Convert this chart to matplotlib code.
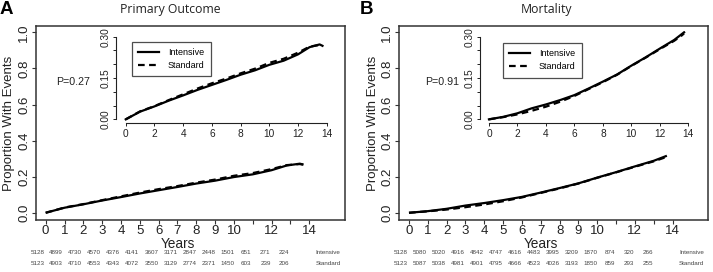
import matplotlib
matplotlib.use("Agg")
import matplotlib.pyplot as plt
import numpy as np

plt.rcParams['font.family'] = ['Liberation Sans', 'DejaVu Sans']

# ---------------- data ----------------
years_main_ticks = list(range(0, 15))
years_main_labels = ['0', '1', '2', '3', '4', '5', '6', '7', '8', '9', '10', '', '12', '', '14']

t_primary = [0, 1, 2, 3, 4, 5, 6, 7, 8, 9, 10, 11, 12, 12.8, 13.5, 13.7]
primary_intensive = [0, 0.028, 0.047, 0.068, 0.087, 0.107, 0.125, 0.143, 0.162, 0.178,
                     0.198, 0.213, 0.236, 0.262, 0.272, 0.267]
primary_standard = [0, 0.029, 0.048, 0.070, 0.091, 0.112, 0.131, 0.148, 0.167, 0.184,
                    0.205, 0.220, 0.242, 0.264, 0.270, 0.266]

t_mort = [0, 1, 2, 3, 4, 5, 6, 7, 8, 9, 10, 11, 12, 13, 13.5, 13.7]
mort_intensive = [0, 0.009, 0.022, 0.040, 0.054, 0.070, 0.088, 0.112, 0.137, 0.163,
                  0.195, 0.225, 0.257, 0.288, 0.308, 0.316]
mort_standard = [0, 0.008, 0.018, 0.031, 0.046, 0.064, 0.085, 0.110, 0.135, 0.162,
                 0.194, 0.224, 0.255, 0.285, 0.303, 0.312]

risk_primary_intensive = [5128, 4899, 4730, 4570, 4376, 4141, 3607, 3171, 2847, 2448, 1501, 651, 271, 224]
risk_primary_standard = [5123, 4903, 4710, 4553, 4343, 4072, 3550, 3129, 2774, 2371, 1450, 603, 239, 206]
risk_mort_intensive = [5128, 5080, 5020, 4916, 4842, 4747, 4616, 4483, 3995, 3209, 1870, 874, 320, 266]
risk_mort_standard = [5123, 5087, 5038, 4981, 4901, 4795, 4666, 4523, 4026, 3193, 1850, 859, 293, 255]

panel_letters = ['A', 'B']
panel_titles = ['Primary Outcome', 'Mortality']
p_values = ['P=0.27', 'P=0.91']
group_names = ['Intensive', 'Standard']

# ---------------- layout ----------------
W, H = 713, 272
fig = plt.figure(figsize=(W / 100, H / 100), dpi=100)

def fx(px):
    return px / W

def fy(py):
    return 1 - py / H

main_left = [35.7, 399.0]
main_w = 309.3
main_top, main_bot = 26, 220
inset_left = [116.4, 479.7]
inset_w = [219.0, 217.2]
inset_top, inset_bot = 31.2, 123.2
title_x = [170.5, 546.5]
letter_x = [0, 360]
p_x = [73, 442]
legend_anchor = [(0.07, 0.886), (0.106, 0.872)]

series = [
    (t_primary, primary_intensive, primary_standard, risk_primary_intensive, risk_primary_standard),
    (t_mort, mort_intensive, mort_standard, risk_mort_intensive, risk_mort_standard),
]

lw = 1.6
for k in range(2):
    t, yi, ys, ri, rs = series[k]
    ax = fig.add_axes([fx(main_left[k]), fy(main_bot), fx(main_w), (main_bot - main_top) / H])
    ax.plot(t, yi, color='black', lw=lw, solid_capstyle='butt')
    ax.plot(t, ys, color='black', lw=lw, ls=(0, (3, 2)))
    ax.set_xlim(-0.53, 15.9)
    ax.set_ylim(-0.04, 1.035)
    ax.set_xticks(years_main_ticks)
    ax.set_xticklabels(years_main_labels)
    ax.set_yticks([0, 0.2, 0.4, 0.6, 0.8, 1.0])
    ax.set_yticklabels(['0.0', '0.2', '0.4', '0.6', '0.8', '1.0'])
    ax.tick_params(axis='both', direction='out', length=3, width=0.8, labelsize=9.5,
                   color='#333333', labelcolor='#222222')
    ax.tick_params(axis='x', pad=0.8)
    ax.tick_params(axis='y', pad=1)
    for lab in ax.get_yticklabels():
        lab.set_rotation(90)
        lab.set_va('center')
    for sp in ax.spines.values():
        sp.set_color('#333333')
        sp.set_linewidth(1.1)
    ax.set_ylabel('Proportion With Events', fontsize=9.5, color='#222222', labelpad=2)
    # x-axis title placed below tick labels
    xtrans = matplotlib.transforms.blended_transform_factory(ax.transData, fig.transFigure)
    ax.text(7.0, fy(243.5), 'Years', transform=xtrans, ha='center', va='center',
            fontsize=9.8, color='#222222', clip_on=False)

    # risk table
    for i in range(len(ri)):
        xp = -0.45 + 1.01 * i
        ax.text(xp, fy(252.6), str(ri[i]), transform=xtrans, ha='center', va='center',
                fontsize=4.5, color='#444444', clip_on=False)
        ax.text(xp, fy(263.2), str(rs[i]), transform=xtrans, ha='center', va='center',
                fontsize=4.5, color='#444444', clip_on=False)
    ax.text(15.0, fy(252.6), group_names[0], transform=xtrans, ha='center', va='center',
            fontsize=4.5, color='#444444', clip_on=False)
    ax.text(15.0, fy(263.2), group_names[1], transform=xtrans, ha='center', va='center',
            fontsize=4.5, color='#444444', clip_on=False)

    # inset
    ai = fig.add_axes([fx(inset_left[k]), fy(inset_bot), fx(inset_w[k]), (inset_bot - inset_top) / H])
    ai.plot(t, yi, color='black', lw=lw, label=group_names[0])
    ai.plot(t, ys, color='black', lw=lw, ls=(0, (3, 2)), label=group_names[1])
    ai.set_xlim(-0.65, 14.6)
    ai.set_ylim(-0.014, 0.32)
    ai.patch.set_alpha(0)
    for s in ['top', 'right']:
        ai.spines[s].set_visible(False)
    ai.spines['left'].set_bounds(0, 0.3)
    ai.spines['bottom'].set_bounds(0, 14)
    for s in ['left', 'bottom']:
        ai.spines[s].set_linewidth(0.8)
        ai.spines[s].set_color('#222222')
    ai.set_xticks([0, 2, 4, 6, 8, 10, 12, 14])
    ai.set_yticks([0, 0.05, 0.10, 0.15, 0.20, 0.25, 0.30])
    ai.set_yticklabels(['0.00', '', '', '0.15', '', '', '0.30'])
    ai.tick_params(axis='both', direction='out', length=2.5, width=0.7, labelsize=7.3,
                   color='#222222', labelcolor='#222222', pad=1.5)
    for lab in ai.get_yticklabels():
        lab.set_rotation(90)
        lab.set_va('center')
    leg = ai.legend(loc='upper left', bbox_to_anchor=legend_anchor[k], borderaxespad=0,
                    fontsize=6.5, frameon=True, fancybox=False, handlelength=2.3,
                    handletextpad=1.0, labelspacing=0.45, borderpad=0.7)
    leg.get_frame().set_edgecolor('#222222')
    leg.get_frame().set_linewidth(0.9)

    fig.text(fx(title_x[k]), fy(9), panel_titles[k], ha='center', va='center',
             fontsize=8.8, family=['Open Sans', 'DejaVu Sans'], color='#222222')
    fig.text(fx(letter_x[k]), fy(10), panel_letters[k], ha='left', va='center',
             fontsize=13.5, fontweight='bold', color='black')
    fig.text(fx(p_x[k]), fy(82), p_values[k], ha='center', va='center', fontsize=7.7,
             color='#222222')

fig.savefig('out.png', dpi=100)
